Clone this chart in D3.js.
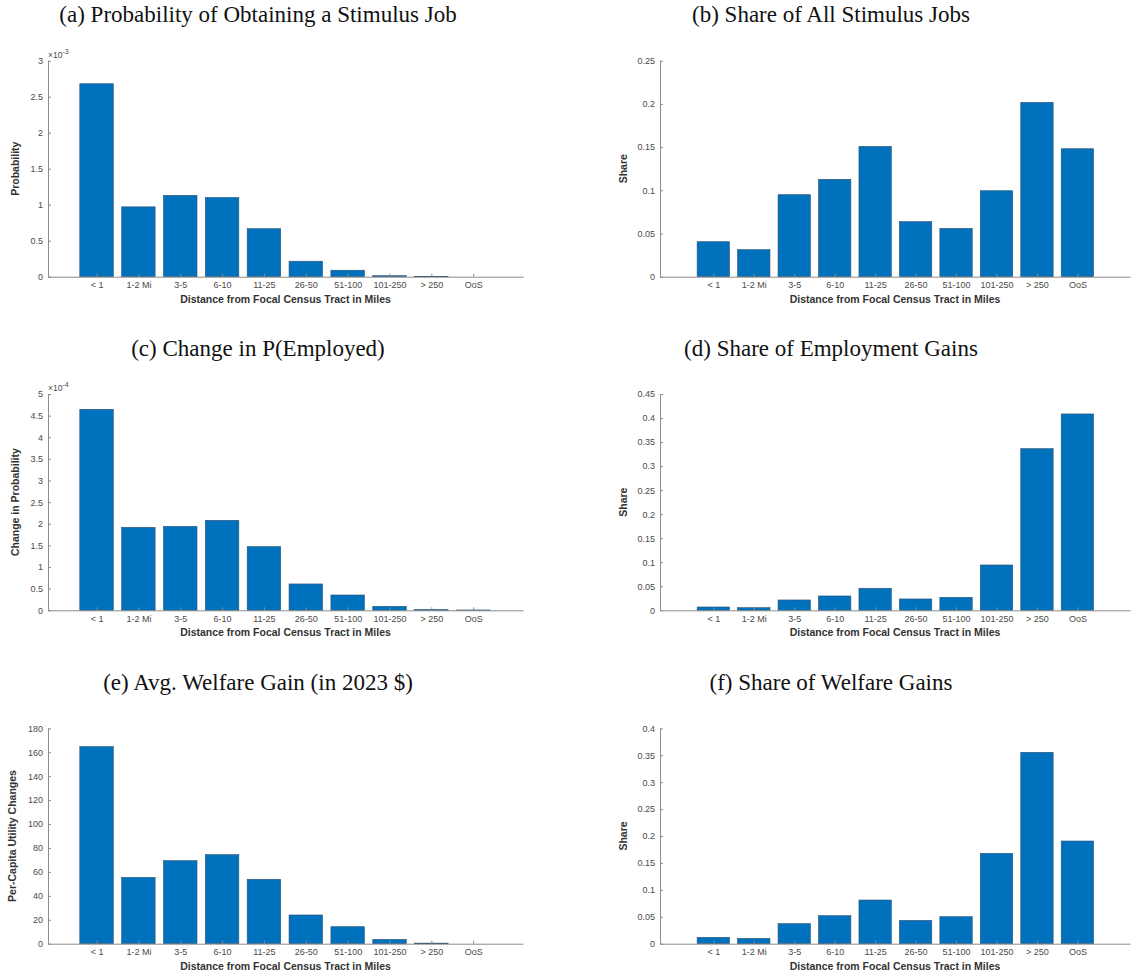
<!DOCTYPE html>
<html>
<head>
<meta charset="utf-8">
<script src="https://cdn.jsdelivr.net/npm/d3@7"></script>
<style>
  body { margin: 0; background: #fff; }
  .tick text { font-family: "Liberation Sans", Arial, sans-serif; font-size: 9px; fill: #4a4a4a; }
  .tick line, .domain { stroke: #8c8c8c; }
</style>
</head>
<body>
<div class="visHolder"></div>
<script>
// categories shared by every panel
var categories = ["< 1", "1-2 Mi", "3-5", "6-10", "11-25", "26-50", "51-100", "101-250", "> 250", "OoS"];

// series values
var probJob = [2.68, 0.97, 1.13, 1.10, 0.667, 0.215, 0.09, 0.014, 0.002, 0];          // x 10^-3
var shareJobs = [0.0405, 0.0313, 0.0949, 0.1127, 0.1508, 0.0637, 0.0559, 0.0995, 0.2018, 0.1481];
var changeEmp = [4.646, 1.918, 1.941, 2.08, 1.471, 0.609, 0.354, 0.092, 0.02, 0.008];  // x 10^-4
var shareEmp = [0.0069, 0.0055, 0.0215, 0.0298, 0.0458, 0.0236, 0.027, 0.0943, 0.3363, 0.4085];
var welfare = [164.7, 55.4, 69.4, 74.4, 53.8, 24.0, 14.2, 3.6, 0.5, 0];
var shareWelfare = [0.0118, 0.0099, 0.0372, 0.052, 0.0811, 0.0433, 0.0502, 0.1678, 0.3554, 0.1907];

// panel texts and tick labels
var titles = ["(a) Probability of Obtaining a Stimulus Job", "(b) Share of All Stimulus Jobs",
  "(c) Change in P(Employed)", "(d) Share of Employment Gains",
  "(e) Avg. Welfare Gain (in 2023 $)", "(f) Share of Welfare Gains"];
var yLabels = ["Probability", "Share", "Change in Probability", "Share", "Per-Capita Utility Changes", "Share"];
var yTicks = [
  ["0", "0.5", "1", "1.5", "2", "2.5", "3"],
  ["0", "0.05", "0.1", "0.15", "0.2", "0.25"],
  ["0", "0.5", "1", "1.5", "2", "2.5", "3", "3.5", "4", "4.5", "5"],
  ["0", "0.05", "0.1", "0.15", "0.2", "0.25", "0.3", "0.35", "0.4", "0.45"],
  ["0", "20", "40", "60", "80", "100", "120", "140", "160", "180"],
  ["0", "0.05", "0.1", "0.15", "0.2", "0.25", "0.3", "0.35", "0.4"]
];
var exponents = ["-3", null, "-4", null, null, null];
var xLabel = "Distance from Focal Census Tract in Miles";

var series = [probJob, shareJobs, changeEmp, shareEmp, welfare, shareWelfare];

var svg = d3.select(".visHolder")
  .append("svg")
  .attr("width", 1134)
  .attr("height", 975)
  .style("display", "block");

// layout of the 3x2 grid
var cols = [
  { left: 48, right: 523, dom: [-1.16, 10.19], title: 258, ylab: 15 },
  { left: 660, right: 1130, dom: [-1.318, 10.30], title: 831, ylab: 623 }
];
var rows = [
  { top: 60.7, bottom: 276.7, title: 22 },
  { top: 394, bottom: 610.3, title: 356 },
  { top: 728.3, bottom: 943.7, title: 690 }
];
var yLabX = [15, 623, 15, 623, 12.5, 623];
var barColor = "#0072BD";

series.forEach(function(values, p) {
  var c = cols[p % 2], r = rows[Math.floor(p / 2)];
  var g = svg.append("g");

  var x = d3.scaleLinear().domain(c.dom).range([c.left, c.right]);
  var tickVals = yTicks[p].map(Number);
  var y = d3.scaleLinear().domain([0, d3.max(tickVals)]).range([r.bottom, r.top]);
  var bw = (x(1) - x(0)) * 0.8;

  // title
  g.append("text")
    .attr("x", c.title)
    .attr("y", r.title)
    .attr("text-anchor", "middle")
    .style("font-family", "'Liberation Serif', 'Times New Roman', serif")
    .style("font-size", "23px")
    .style("fill", "#111")
    .text(titles[p]);

  // bars
  g.selectAll(".bar")
    .data(values)
    .enter()
    .append("rect")
    .attr("class", "bar")
    .attr("x", function(d, i) { return x(i) - bw / 2; })
    .attr("y", function(d) { return y(d); })
    .attr("width", bw)
    .attr("height", function(d) { return y(0) - y(d); })
    .style("fill", barColor)
    .style("stroke", "#2d4f70")
    .style("stroke-width", 0.6);

  // x axis
  g.append("g")
    .attr("transform", "translate(0," + r.bottom + ")")
    .call(d3.axisBottom(x)
      .tickValues(d3.range(categories.length))
      .tickFormat(function(i) { return categories[i]; })
      .tickSizeInner(-3)
      .tickSizeOuter(0)
      .tickPadding(5));

  // y axis
  g.append("g")
    .attr("transform", "translate(" + c.left + ",0)")
    .call(d3.axisLeft(y)
      .tickValues(tickVals)
      .tickFormat(function(d, i) { return yTicks[p][i]; })
      .tickSizeInner(-3)
      .tickSizeOuter(0)
      .tickPadding(5));

  // x label
  g.append("text")
    .attr("x", (c.left + c.right) / 2)
    .attr("y", r.bottom + 26)
    .attr("text-anchor", "middle")
    .style("font-family", "'Liberation Sans', Arial, sans-serif")
    .style("font-size", "10.5px")
    .style("font-weight", "bold")
    .style("fill", "#333")
    .text(xLabel);

  // y label
  g.append("text")
    .attr("transform", "translate(" + yLabX[p] + "," + (r.top + r.bottom) / 2 + ") rotate(-90)")
    .attr("dy", "0.35em")
    .attr("text-anchor", "middle")
    .style("font-family", "'Liberation Sans', Arial, sans-serif")
    .style("font-size", "10.5px")
    .style("font-weight", "bold")
    .style("fill", "#333")
    .text(yLabels[p]);

  // exponent marker
  if (exponents[p]) {
    var ex = g.append("text")
      .attr("x", c.left)
      .attr("y", r.top - 3)
      .style("font-family", "'Liberation Sans', Arial, sans-serif")
      .style("font-size", "8.5px")
      .style("fill", "#4a4a4a");
    ex.append("tspan").text("\u00d710");
    ex.append("tspan").attr("dy", -4).style("font-size", "7px").text(exponents[p]);
  }
});
</script>
</body>
</html>
